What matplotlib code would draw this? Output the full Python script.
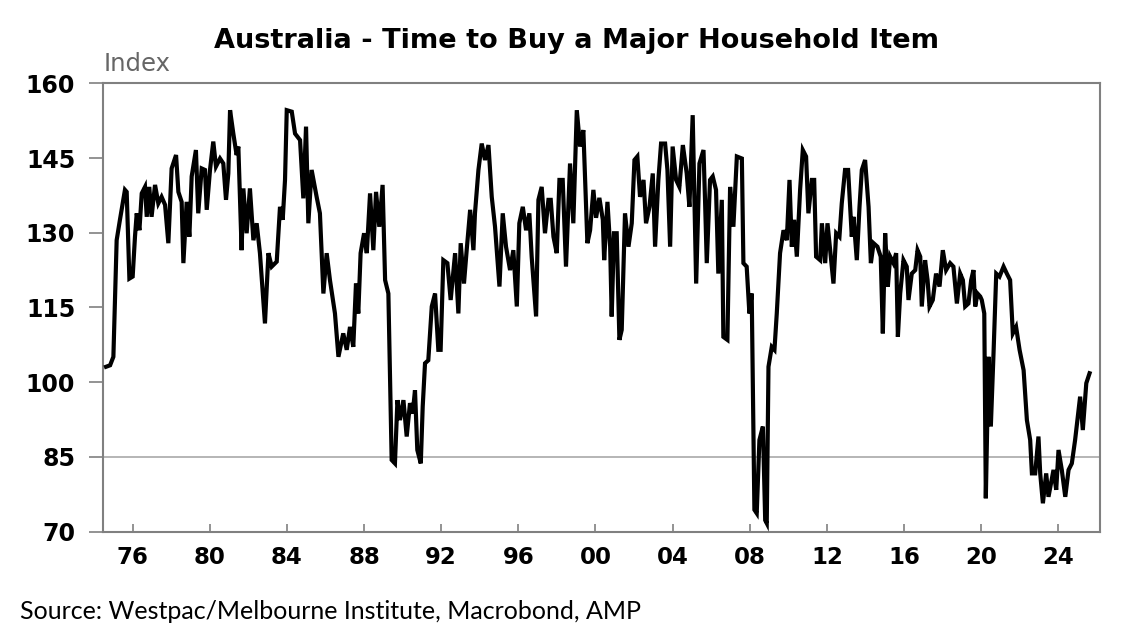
import matplotlib
matplotlib.use("Agg")
import matplotlib.pyplot as plt

# decimal year, index value
years = [
    1974.62, 1974.83, 1975.00, 1975.17, 1975.34, 1975.60, 1975.69, 1975.83, 1976.00, 1976.12,
    1976.21, 1976.35, 1976.47, 1976.64, 1976.73, 1976.86, 1976.98, 1977.16, 1977.33, 1977.50,
    1977.68, 1977.85, 1978.02, 1978.25, 1978.37, 1978.54, 1978.63, 1978.80, 1978.94, 1979.06,
    1979.28, 1979.40, 1979.58, 1979.75, 1979.84, 1980.01, 1980.18, 1980.32, 1980.53, 1980.70,
    1980.84, 1980.96, 1981.05, 1981.22, 1981.39, 1981.48, 1981.65, 1981.74, 1981.91, 1982.08,
    1982.26, 1982.43, 1982.60, 1982.86, 1983.04, 1983.21, 1983.47, 1983.64, 1983.78, 1983.90,
    1983.99, 1984.25, 1984.42, 1984.68, 1984.85, 1984.99, 1985.11, 1985.28, 1985.54, 1985.71,
    1985.89, 1986.06, 1986.23, 1986.49, 1986.67, 1986.92, 1987.10, 1987.27, 1987.44, 1987.58,
    1987.70, 1987.82, 1988.00, 1988.14, 1988.31, 1988.48, 1988.62, 1988.79, 1988.96, 1989.09,
    1989.26, 1989.43, 1989.60, 1989.73, 1989.86, 1990.04, 1990.21, 1990.38, 1990.52, 1990.64,
    1990.76, 1990.94, 1991.04, 1991.16, 1991.33, 1991.51, 1991.68, 1991.85, 1991.97, 1992.11,
    1992.32, 1992.49, 1992.72, 1992.89, 1993.01, 1993.18, 1993.32, 1993.50, 1993.67, 1993.75,
    1993.93, 1994.10, 1994.27, 1994.45, 1994.62, 1994.79, 1995.02, 1995.19, 1995.36, 1995.57,
    1995.74, 1995.92, 1996.05, 1996.23, 1996.40, 1996.57, 1996.69, 1996.92, 1997.04, 1997.21,
    1997.38, 1997.56, 1997.68, 1997.82, 1997.99, 1998.13, 1998.30, 1998.47, 1998.68, 1998.85,
    1999.03, 1999.20, 1999.37, 1999.58, 1999.72, 1999.89, 2000.03, 2000.20, 2000.38, 2000.45,
    2000.62, 2000.76, 2000.84, 2000.96, 2001.10, 2001.24, 2001.36, 2001.53, 2001.71, 2001.88,
    2002.02, 2002.17, 2002.31, 2002.49, 2002.62, 2002.80, 2002.97, 2003.09, 2003.26, 2003.40,
    2003.61, 2003.73, 2003.87, 2004.00, 2004.18, 2004.35, 2004.53, 2004.73, 2004.87, 2005.04,
    2005.22, 2005.39, 2005.60, 2005.68, 2005.77, 2005.94, 2006.08, 2006.25, 2006.37, 2006.55,
    2006.63, 2006.84, 2006.98, 2007.15, 2007.33, 2007.59, 2007.67, 2007.84, 2007.98, 2008.10,
    2008.24, 2008.36, 2008.50, 2008.68, 2008.80, 2008.88, 2008.97, 2009.14, 2009.28, 2009.40,
    2009.57, 2009.75, 2009.92, 2010.06, 2010.18, 2010.30, 2010.44, 2010.61, 2010.75, 2010.92,
    2011.04, 2011.22, 2011.34, 2011.44, 2011.65, 2011.74, 2011.91, 2012.03, 2012.17, 2012.34,
    2012.48, 2012.65, 2012.77, 2012.94, 2013.10, 2013.29, 2013.38, 2013.55, 2013.69, 2013.81,
    2013.98, 2014.16, 2014.28, 2014.42, 2014.62, 2014.79, 2014.90, 2015.02, 2015.16, 2015.28,
    2015.45, 2015.59, 2015.68, 2015.80, 2015.97, 2016.14, 2016.23, 2016.40, 2016.58, 2016.70,
    2016.84, 2016.92, 2017.09, 2017.22, 2017.32, 2017.49, 2017.66, 2017.84, 2018.01, 2018.18,
    2018.39, 2018.56, 2018.74, 2018.91, 2019.05, 2019.17, 2019.34, 2019.48, 2019.60, 2019.69,
    2019.81, 2019.95, 2020.03, 2020.16, 2020.24, 2020.38, 2020.50, 2020.64, 2020.78, 2020.95,
    2021.16, 2021.33, 2021.50, 2021.64, 2021.81, 2021.99, 2022.20, 2022.37, 2022.54, 2022.63,
    2022.80, 2022.97, 2023.06, 2023.20, 2023.37, 2023.49, 2023.75, 2023.89, 2024.01, 2024.18,
    2024.36, 2024.53, 2024.70, 2024.87, 2024.99, 2025.13, 2025.27, 2025.45, 2025.62,
]
index = [
    103.1, 103.4, 105.1, 128.5, 132.6, 138.6, 138.2, 120.8, 121.2, 129.2,
    133.9, 130.5, 137.9, 139.2, 133.2, 139.2, 133.2, 139.6, 135.9, 137.2,
    135.6, 127.9, 142.9, 145.6, 138.2, 136.2, 123.9, 136.2, 129.2, 141.3,
    146.6, 133.9, 142.9, 142.6, 134.6, 142.6, 148.3, 143.3, 144.9, 143.9,
    136.6, 141.9, 154.6, 149.9, 145.6, 147.3, 126.5, 138.9, 129.9, 138.9,
    128.5, 131.9, 125.9, 111.8, 125.9, 123.2, 124.2, 135.2, 132.6, 140.6,
    154.6, 154.3, 149.9, 148.6, 136.9, 151.3, 131.9, 142.6, 137.2, 133.9,
    117.8, 125.9, 120.5, 113.8, 105.1, 109.8, 106.5, 111.1, 107.1, 119.8,
    113.8, 125.9, 129.9, 125.9, 137.9, 126.5, 138.2, 131.2, 139.6, 120.5,
    117.8, 84.4, 83.7, 96.4, 92.4, 96.4, 89.1, 95.8, 93.7, 98.4,
    86.4, 83.7, 95.1, 103.8, 104.4, 115.2, 117.8, 106.5, 106.5, 124.5,
    123.9, 116.5, 125.9, 113.8, 127.9, 119.8, 126.5, 134.6, 126.5, 133.9,
    142.6, 147.9, 144.6, 147.6, 137.2, 131.2, 119.2, 133.9, 127.2, 122.5,
    126.5, 115.2, 131.9, 135.2, 130.5, 133.9, 125.2, 113.2, 136.6, 139.2,
    129.9, 136.6, 136.6, 129.2, 125.9, 140.6, 140.6, 123.2, 143.9, 131.9,
    154.6, 147.3, 150.6, 127.9, 130.5, 138.6, 133.0, 137.0, 132.6, 124.5,
    136.2, 127.2, 113.2, 129.9, 129.9, 108.5, 110.5, 133.9, 127.2, 131.9,
    144.6, 145.3, 137.2, 140.6, 131.9, 135.2, 141.9, 127.2, 140.6, 147.9,
    147.9, 142.6, 127.2, 147.3, 140.6, 139.2, 147.6, 141.9, 135.2, 153.6,
    119.8, 143.9, 146.6, 136.6, 123.9, 140.6, 141.3, 138.6, 121.8, 136.6,
    109.1, 108.5, 139.2, 131.2, 145.3, 144.9, 123.9, 123.2, 113.8, 117.8,
    74.4, 73.7, 88.4, 91.1, 72.3, 71.7, 103.1, 107.1, 106.5, 113.8,
    125.9, 130.5, 128.5, 140.6, 127.2, 132.6, 125.2, 138.6, 146.6, 145.3,
    133.9, 140.6, 140.6, 125.2, 124.5, 131.9, 123.9, 131.9, 126.5, 119.8,
    129.9, 129.2, 135.9, 142.6, 142.6, 129.2, 133.2, 124.5, 135.2, 142.6,
    144.6, 135.2, 123.9, 127.9, 127.2, 125.2, 109.8, 129.9, 119.2, 125.2,
    123.9, 125.9, 109.1, 117.8, 124.5, 123.2, 116.5, 121.8, 122.5, 126.5,
    125.2, 115.2, 124.5, 120.5, 115.2, 116.5, 121.8, 119.2, 126.5, 122.5,
    123.9, 123.2, 115.8, 121.8, 120.5, 115.2, 115.8, 120.5, 122.5, 115.2,
    117.8, 117.2, 116.5, 113.8, 76.7, 105.1, 91.1, 105.8, 121.8, 121.2,
    123.2, 121.8, 120.5, 109.8, 111.1, 106.5, 102.4, 92.4, 88.4, 81.7,
    81.7, 89.1, 81.7, 75.7, 81.7, 77.0, 82.4, 78.4, 86.4, 82.4,
    77.0, 82.4, 83.7, 88.4, 92.4, 97.1, 90.4, 99.8, 101.8,
]

xticks = [1976, 1980, 1984, 1988, 1992, 1996, 2000, 2004, 2008, 2012, 2016, 2020, 2024]
xlabels = ["76", "80", "84", "88", "92", "96", "00", "04", "08", "12", "16", "20", "24"]
yticks = [70, 85, 100, 115, 130, 145, 160]

plt.rcParams['font.family'] = ['DejaVu Sans']

fig = plt.figure(figsize=(11.34, 6.44), dpi=100)
ax = fig.add_axes([0.0908, 0.1744, 0.8792, 0.6963])

ax.axhline(85, color='#b0b0b0', lw=1.3, zorder=1)
ax.plot(years, index, color='black', lw=3.0, solid_joinstyle='miter', zorder=3)

ax.set_xlim(1974.46, 2026.16)
ax.set_ylim(70, 160)
ax.set_xticks(xticks)
ax.set_xticklabels(xlabels)
ax.set_yticks(yticks)

for s in ax.spines.values():
    s.set_color('#808080')
    s.set_linewidth(1.5)

ax.tick_params(axis='x', direction='in', length=6, width=1.2, color='#808080',
               labelsize=16.5, pad=10)
ax.tick_params(axis='y', direction='out', length=10, width=1.2, color='#808080',
               labelsize=17, pad=10)
for lab in ax.get_xticklabels() + ax.get_yticklabels():
    lab.set_fontweight('bold')

fig.text(0.508, 0.937, "Australia - Time to Buy a Major Household Item",
         ha='center', va='center', fontsize=19.5, fontweight='bold')
fig.text(0.091, 0.900, "Index", ha='left', va='center', fontsize=17.5, color='#666666')
fig.text(0.018, 0.050, "Source: Westpac/Melbourne Institute, Macrobond, AMP",
         ha='left', va='center', fontsize=18, family=['Lato', 'DejaVu Sans'])

fig.savefig("out.png", dpi=100)
